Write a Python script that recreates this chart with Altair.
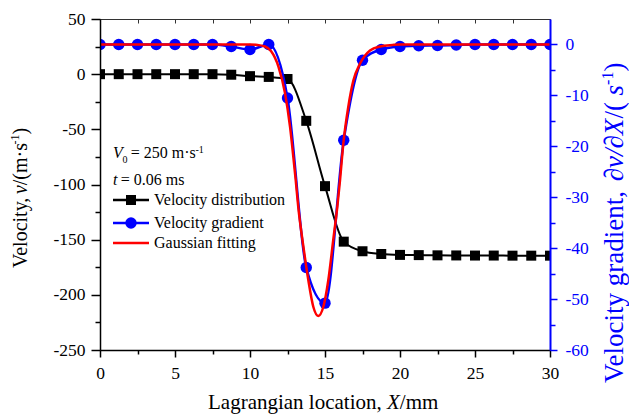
import altair as alt
import pandas as pd

# Sample positions along the specimen (mm)
x_pos = [0, 1.25, 2.5, 3.75, 5, 6.25, 7.5, 8.75, 10, 11.25, 12.5, 13.75, 15,
         16.25, 17.5, 18.75, 20, 21.25, 22.5, 23.75, 25, 26.25, 27.5, 28.75, 30]

# Particle velocity (m/s), left axis
velocity = [0, 0, 0, 0, 0, 0, 0, -0.5, -1.8, -2.5, -4.4, -42.3, -101.5,
            -151.8, -160.5, -163.0, -163.8, -164.0, -164.2, -164.3, -164.4,
            -164.4, -164.5, -164.5, -164.5]

# Velocity gradient (1/s), right axis
gradient = [0, 0, 0, 0, 0, 0, 0, -0.4, -1.0, 0, -10.5, -43.8, -50.8,
            -18.8, -3.1, -1.0, -0.4, -0.25, -0.2, -0.1, 0, 0, 0, 0, 0]

# Gaussian fit of the gradient, sampled along X
fit_x = [0, 5, 10, 10.5, 11.0, 11.4, 11.9, 12.33, 12.67, 12.89, 13.05, 13.22,
         13.56, 13.89, 14.22, 14.55, 14.89, 15.22, 15.55, 15.82, 16.0, 16.22,
         16.55, 16.89, 17.33, 18.0, 18.67, 19.5, 20, 25, 30]
fit_g = [0, 0, 0, -0.1, -0.4, -1.3, -4.4, -9.5, -16.2, -22.1, -26.7, -32.0,
         -39.7, -46.3, -51.5, -53.3, -51.5, -46.3, -38.4, -31.9, -26.7, -19.5,
         -12.3, -7.1, -3.8, -1.2, -0.4, -0.1, 0, 0, 0]

# Axis tick positions
x_ticks = [0, 2.5, 5, 7.5, 10, 12.5, 15, 17.5, 20, 22.5, 25, 27.5, 30]
v_ticks = [-250, -225, -200, -175, -150, -125, -100, -75, -50, -25, 0, 25, 50]
g_ticks = [-60, -55, -50, -45, -40, -35, -30, -25, -20, -15, -10, -5, 0]

FONT = "Liberation Serif"
BLUE = "#0000FF"
RED = "#FF0000"
W, H = 450, 331
PAD_L, PAD_T = 100, 19

vel_df = pd.DataFrame({"x": x_pos, "v": velocity})
grad_df = pd.DataFrame({"x": x_pos, "g": gradient})
fit_df = pd.DataFrame({"x": fit_x, "g": fit_g})
one_row = pd.DataFrame({"k": [0]})

x_scale = alt.Scale(domain=[0, 30], nice=False, zero=False)

x_bottom = alt.X(
    "x:Q", scale=x_scale,
    axis=alt.Axis(
        orient="bottom", values=x_ticks, title=None, grid=False,
        labelExpr="datum.value % 5 === 0 ? toString(datum.value) : ''",
        tickSize={"condition": {"test": "datum.value % 5 !== 0", "value": 4}, "value": 7},
        labelPadding=7, labelFlush=False, labelOverlap=False,
        labelFont=FONT, labelFontSize=17.5, labelColor="black",
        tickColor="black", domainColor="black", tickWidth=1.5, domainWidth=1.5,
        zindex=1,
    ),
)

x_top = alt.X(
    "x:Q", scale=x_scale,
    axis=alt.Axis(
        orient="top", values=x_ticks, title=None, grid=False, labels=False,
        domain=False, tickSize=4, offset=-4, tickColor="#333333", tickWidth=1,
    ),
)

y_left = alt.Y(
    "v:Q", scale=alt.Scale(domain=[-250, 50], nice=False, zero=False),
    axis=alt.Axis(
        orient="left", values=v_ticks, title=None, grid=False,
        labelExpr="datum.value % 50 === 0 ? toString(datum.value) : ''",
        tickSize={"condition": {"test": "datum.value % 50 !== 0", "value": 5}, "value": 9},
        labelPadding=6, labelOverlap=False,
        labelFont=FONT, labelFontSize=17.5, labelColor="black",
        tickColor="black", domainColor="black", tickWidth=1.5, domainWidth=1.5,
        zindex=1,
    ),
)

y_right = alt.Y(
    "g:Q", scale=alt.Scale(domain=[-60, 5], nice=False, zero=False),
    axis=alt.Axis(
        orient="right", values=g_ticks, title=None, grid=False,
        labelExpr="datum.value % 10 === 0 ? toString(datum.value) : ''",
        tickSize={"condition": {"test": "datum.value % 10 !== 0", "value": 5}, "value": 7},
        labelPadding=8, labelOverlap=False,
        labelFont=FONT, labelFontSize=17.5, labelColor=BLUE,
        tickColor=BLUE, domainColor=BLUE, tickWidth=1.5, domainWidth=2,
        zindex=1,
    ),
)

# Velocity distribution (left axis)
black_line = alt.Chart(vel_df).mark_line(
    color="black", strokeWidth=2, interpolate="monotone", clip=True
).encode(x=x_bottom, y=y_left)
black_pts = alt.Chart(vel_df).mark_square(
    color="black", size=100, opacity=1, clip=True
).encode(x=x_bottom, y=y_left)
left_group = alt.layer(black_line, black_pts)

# Velocity gradient and its Gaussian fit (right axis)
blue_line = alt.Chart(grad_df).mark_line(
    color=BLUE, strokeWidth=2.5, interpolate="monotone", clip=True
).encode(x=x_top, y=y_right)
blue_pts = alt.Chart(grad_df).mark_circle(
    color=BLUE, size=130, opacity=1, clip=True
).encode(x=x_top, y=y_right)
red_line = alt.Chart(fit_df).mark_line(
    color=RED, strokeWidth=2.5, interpolate="monotone", clip=True
).encode(x=x_top, y=y_right)
right_group = alt.layer(blue_line, blue_pts, red_line)


def label(text, x, y, size, italic=False, color="black", angle=0,
          baseline="alphabetic"):
    """Text placed at absolute page coordinates."""
    return alt.Chart(one_row).mark_text(
        text=text, font=FONT, fontSize=size,
        fontStyle="italic" if italic else "normal",
        color=color, angle=angle, align="left", baseline=baseline,
    ).encode(x=alt.value(x - PAD_L), y=alt.value(y - PAD_T))


annos = []

# Axis titles
annos += [
    label("Lagrangian location, ", 208, 409, 21),
    label("X", 387, 409, 21, italic=True),
    label(" /mm", 399.8, 409, 21),
]
annos += [
    label("Velocity,", 26.5, 268, 20, angle=270),
    label("v", 26.5, 194.1, 20, italic=True, angle=270),
    label("/(m·s", 26.5, 185.2, 20, angle=270),
    label("-1", 18.5, 144.6, 12, angle=270),
    label(")", 26.5, 134.6, 20, angle=270),
]
annos += [
    label("Velocity gradient, ", 623, 383, 27, color=BLUE, angle=270),
    label("∂v/∂X", 623, 181.3, 27, italic=True, color=BLUE, angle=270),
    label("/( ", 623, 118.6, 27, color=BLUE, angle=270),
    label("s", 623, 95.4, 27, italic=True, color=BLUE, angle=270),
    label("-1", 613, 84.9, 16, color=BLUE, angle=270),
    label(")", 623, 71.6, 27, color=BLUE, angle=270),
]

# Test conditions
annos += [
    label("V", 113, 158, 16, italic=True),
    label("0", 122.5, 163, 10),
    label("= 250 m·s", 130.7, 158, 16),
    label("-1", 195.5, 152.5, 10),
    label("t", 113, 185, 16, italic=True),
    label("= 0.06 ms", 120.7, 185, 16),
]

# Legend
legend_rows = [
    ("Velocity distribution", "black", 200, "square"),
    ("Velocity gradient", BLUE, 223, "circle"),
    ("Gaussian fitting", RED, 243, None),
]
for name, col, yy, sym in legend_rows:
    annos.append(
        alt.Chart(one_row).mark_rule(color=col, strokeWidth=2.5).encode(
            x=alt.value(113 - PAD_L), x2=alt.value(149 - PAD_L),
            y=alt.value(yy - PAD_T),
        )
    )
    if sym == "square":
        annos.append(
            alt.Chart(one_row).mark_square(color=col, size=100, opacity=1).encode(
                x=alt.value(131 - PAD_L), y=alt.value(yy - PAD_T)
            )
        )
    elif sym == "circle":
        annos.append(
            alt.Chart(one_row).mark_circle(color=col, size=130, opacity=1).encode(
                x=alt.value(131 - PAD_L), y=alt.value(yy - PAD_T)
            )
        )
    annos.append(label(name, 154, yy, 16, baseline="middle"))

chart = (
    alt.layer(left_group, right_group, *annos)
    .resolve_scale(y="independent")
    .resolve_axis(x="independent")
    .properties(
        width=W, height=H, autosize="none",
        padding={"left": PAD_L, "top": PAD_T, "right": 629 - PAD_L - W,
                 "bottom": 417 - PAD_T - H},
        background="white",
    )
    .configure_view(stroke="#333333", strokeWidth=1)
)

chart.save("out.html", embed_options={"renderer": "svg", "actions": False})
